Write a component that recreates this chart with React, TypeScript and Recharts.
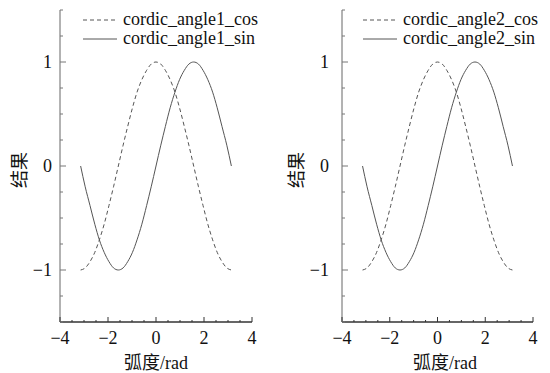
import { LineChart, Line, XAxis, YAxis } from 'recharts'

// radians, -pi..pi
const angles = [-3.14, -2.95, -2.75, -2.55, -2.36, -2.16, -1.96, -1.77, -1.57, -1.37, -1.18, -0.98, -0.79, -0.59, -0.39, -0.2, 0, 0.2, 0.39, 0.59, 0.79, 0.98, 1.18, 1.37, 1.57, 1.77, 1.96, 2.16, 2.36, 2.55, 2.75, 2.95, 3.14]

const angle1Cos = [-1, -0.98, -0.92, -0.83, -0.71, -0.56, -0.38, -0.2, 0, 0.2, 0.38, 0.56, 0.71, 0.83, 0.92, 0.98, 1, 0.98, 0.92, 0.83, 0.71, 0.56, 0.38, 0.2, 0, -0.2, -0.38, -0.56, -0.71, -0.83, -0.92, -0.98, -1]
const angle1Sin = [0, -0.2, -0.38, -0.56, -0.71, -0.83, -0.92, -0.98, -1, -0.98, -0.92, -0.83, -0.71, -0.56, -0.38, -0.2, 0, 0.2, 0.38, 0.56, 0.71, 0.83, 0.92, 0.98, 1, 0.98, 0.92, 0.83, 0.71, 0.56, 0.38, 0.2, 0]

const angle2Cos = [-1, -0.98, -0.92, -0.83, -0.71, -0.56, -0.38, -0.2, 0, 0.2, 0.38, 0.56, 0.71, 0.83, 0.92, 0.98, 1, 0.98, 0.92, 0.83, 0.71, 0.56, 0.38, 0.2, 0, -0.2, -0.38, -0.56, -0.71, -0.83, -0.92, -0.98, -1]
const angle2Sin = [0, -0.2, -0.38, -0.56, -0.71, -0.83, -0.92, -0.98, -1, -0.98, -0.92, -0.83, -0.71, -0.56, -0.38, -0.2, 0, 0.2, 0.38, 0.56, 0.71, 0.83, 0.92, 0.98, 1, 0.98, 0.92, 0.83, 0.71, 0.56, 0.38, 0.2, 0]

const xTicks = [-4, -3.5, -3, -2.5, -2, -1.5, -1, -0.5, 0, 0.5, 1, 1.5, 2, 2.5, 3, 3.5, 4]
const yTicks = [-1.5, -1.25, -1, -0.75, -0.5, -0.25, 0, 0.25, 0.5, 0.75, 1, 1.25, 1.5]
const xLabeled = [-4, -2, 0, 2, 4]
const yLabeled = [-1, 0, 1]

const SERIF = '"Times New Roman", Times, "Liberation Serif", serif'
const CJK = '"Times New Roman", "Liberation Serif", "Noto Sans CJK SC", serif'
const INK = '#333'
const LINE = '#555'

const fmt = (v: number) => (v < 0 ? `\u2212${Math.abs(v)}` : `${v}`)

function XTick({ x, y, payload, margin }: any) {
  const v = payload.value
  const major = xLabeled.includes(v)
  const axisY = y - margin
  return (
    <g>
      <line x1={x} x2={x} y1={axisY} y2={axisY - (major ? 5 : 2)} stroke={INK} strokeWidth={1} />
      {major && (
        <text x={x} y={y} dy="0.75em" textAnchor="middle" fontFamily={SERIF} fontSize={18} fill="#111">
          {fmt(v)}
        </text>
      )}
    </g>
  )
}

function YTick({ x, y, payload, margin }: any) {
  const v = payload.value
  const major = yLabeled.includes(v)
  const axisX = x + margin
  return (
    <g>
      <line x1={axisX} x2={axisX + (major ? 6 : 3)} y1={y} y2={y} stroke="#777" strokeWidth={1} />
      {major && (
        <text x={x} y={y} dy="0.35em" textAnchor="end" fontFamily={SERIF} fontSize={18} fill="#111">
          {fmt(v)}
        </text>
      )}
    </g>
  )
}

function LegendBox({ names, left }: { names: string[]; left: number }) {
  const rows = [
    { name: names[0], dash: '4 3' },
    { name: names[1], dash: undefined },
  ]
  return (
    <div style={{ position: 'absolute', left, top: 10, fontFamily: SERIF, fontSize: 18, color: '#111' }}>
      {rows.map((r) => (
        <div key={r.name} style={{ display: 'flex', alignItems: 'center', height: 19, whiteSpace: 'nowrap' }}>
          <svg width={34} height={10} style={{ marginRight: 6 }}>
            <line x1={0} x2={34} y1={5} y2={5} stroke={LINE} strokeWidth={1} strokeDasharray={r.dash} />
          </svg>
          <span>{r.name}</span>
        </div>
      ))}
    </div>
  )
}

interface PanelProps {
  left: number
  cos: number[]
  sin: number[]
  names: string[]
  axisWidth: number
  rightMargin: number
  tickGap: number
  titleX: number
  xTitleX: number
  legendLeft: number
}

function Panel({ left, cos, sin, names, axisWidth, rightMargin, tickGap, titleX, xTitleX, legendLeft }: PanelProps) {
  const data = angles.map((a, i) => ({ a, cos: cos[i], sin: sin[i] }))
  return (
    <div style={{ position: 'absolute', left, top: 0, width: 275, height: 373 }}>
      <LineChart width={275} height={373} data={data} margin={{ top: 10, right: rightMargin, bottom: 0, left: 0 }}>
        <XAxis
          dataKey="a"
          type="number"
          domain={[-4, 4]}
          ticks={xTicks}
          interval={0}
          height={51}
          tickSize={0}
          tickMargin={8}
          tickLine={false}
          axisLine={{ stroke: INK, strokeWidth: 1.5 }}
          tick={(p: any) => <XTick {...p} margin={8} />}
          label={() => (
            <text x={xTitleX} y={363} textAnchor="middle" dominantBaseline="central" fontFamily={CJK} fontSize={18} fill="#111">
              弧度/rad
            </text>
          )}
        />
        <YAxis
          type="number"
          domain={[-1.5, 1.5]}
          ticks={yTicks}
          interval={0}
          width={axisWidth}
          tickSize={0}
          tickMargin={tickGap}
          tickLine={false}
          axisLine={{ stroke: '#666', strokeWidth: 1 }}
          tick={(p: any) => <YTick {...p} margin={tickGap} />}
          label={() => (
            <text x={titleX} y={170} textAnchor="middle" dominantBaseline="central" transform={`rotate(-90 ${titleX} 170)`} fontFamily={CJK} fontSize={18} fill="#111">
              结果
            </text>
          )}
        />
        <Line dataKey="cos" type="monotone" stroke={LINE} strokeWidth={1} strokeDasharray="4 3" dot={false} isAnimationActive={false} />
        <Line dataKey="sin" type="monotone" stroke={LINE} strokeWidth={1} dot={false} isAnimationActive={false} />
      </LineChart>
      <LegendBox names={names} left={legendLeft} />
    </div>
  )
}

export default function App() {
  return (
    <div style={{ position: 'absolute', left: 0, top: 0, width: 550, height: 373, background: '#fff' }}>
      <Panel
        left={0}
        cos={angle1Cos}
        sin={angle1Sin}
        names={['cordic_angle1_cos', 'cordic_angle1_sin']}
        axisWidth={60}
        rightMargin={23}
        tickGap={8}
        titleX={20}
        xTitleX={156}
        legendLeft={83}
      />
      <Panel
        left={275}
        cos={angle2Cos}
        sin={angle2Sin}
        names={['cordic_angle2_cos', 'cordic_angle2_sin']}
        axisWidth={67}
        rightMargin={17}
        tickGap={13}
        titleX={22}
        xTitleX={170}
        legendLeft={88}
      />
    </div>
  )
}
